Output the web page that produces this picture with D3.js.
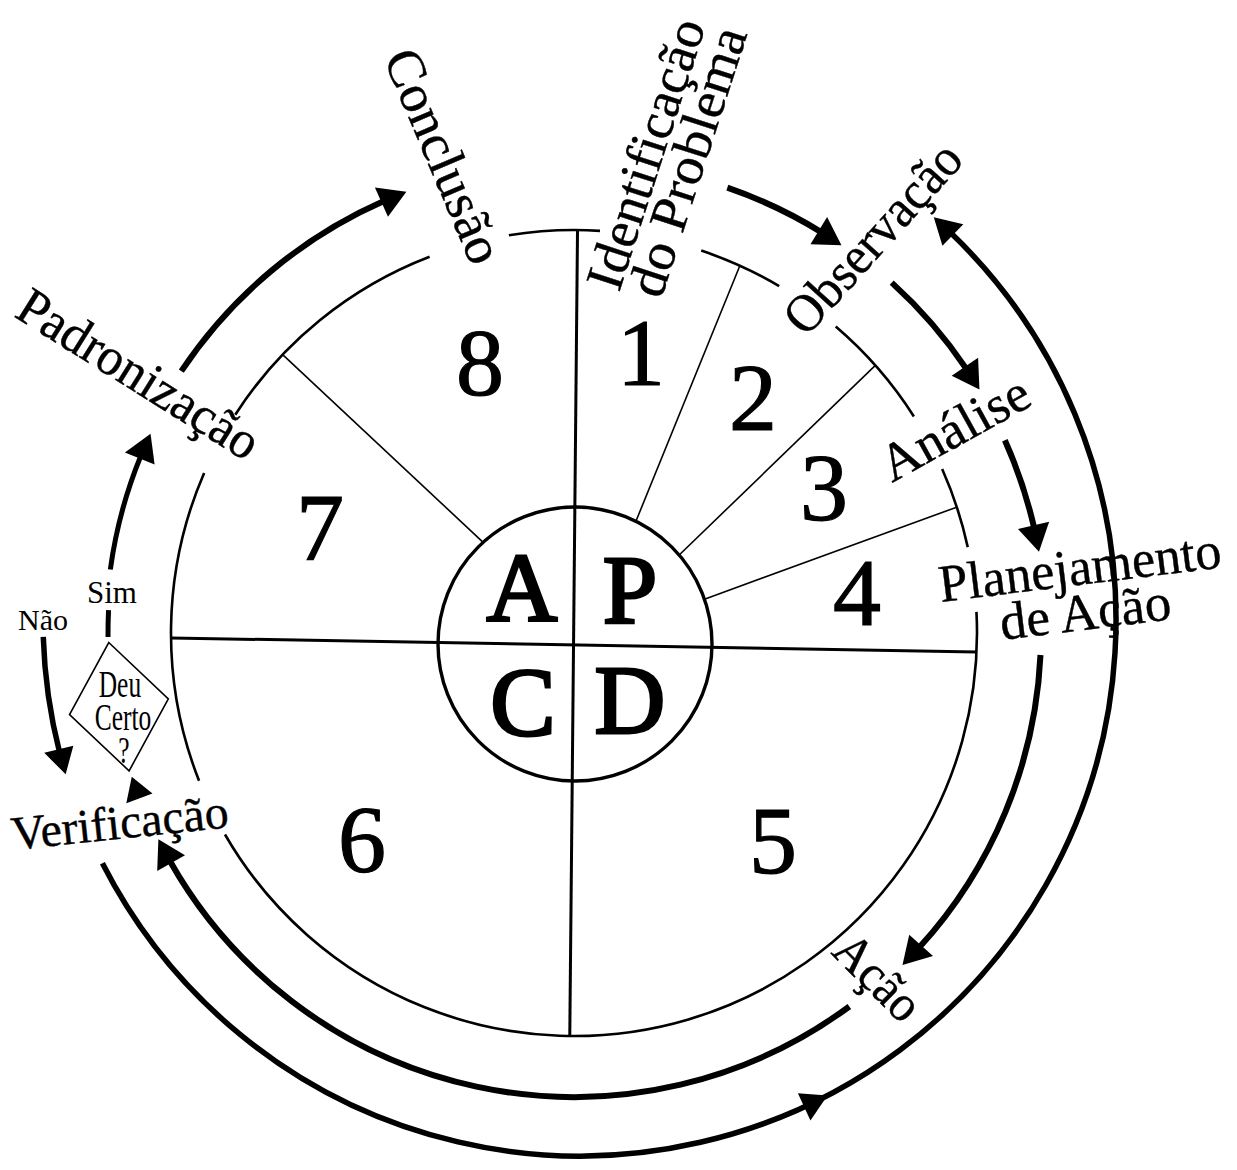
<!DOCTYPE html>
<html>
<head>
<meta charset="utf-8">
<script src="https://cdn.jsdelivr.net/npm/d3@7"></script>
<style>
  body { margin: 0; background: #fff; }
  text { font-family: "Liberation Serif", "Times New Roman", serif; fill: #000; }
</style>
</head>
<body>
<div id="container"></div>
<script>
// Dados do ciclo PDCA
var steps = ["1", "2", "3", "4", "5", "6", "7", "8"];
var quadrants = ["A", "P", "C", "D"];
var stageLabels = ["Identificação", "do Problema", "Conclusão", "Observação", "Análise",
                   "Planejamento", "de Ação", "Ação", "Verificação", "Padronização"];
var decisionLines = ["Deu", "Certo", "?"];
var branchLabels = ["Sim", "Não"];

// ângulos em graus, sentido horário a partir do topo
var ringArcs = [[302.8, 339], [350.7, 363.7], [18.4, 30.6], [40.5, 57.5], [66, 77.7], [87, 240], [248.5, 293.4]];
var dividerAngles = [[26.4, 24.3], [49.5, 48.4], [70.9, 71.8], [317.9, 313.7]];
var crossAngles = [[0.5, 180.6], [269.3, 92.7]];
var flowArcs = [[303.7, 339.2], [19, 34.6], [42.2, 59], [65.9, 80.1], [92.7, 135.3], [143.6, 243.6], [249.2, 252], [277.8, 295.2]];
var returnArcs = [[268.2, 253.3], [243, 41.3]];

// Layout
var width = 1237, height = 1170;
var C = [574, 633],      // centro do círculo externo
    CI = [575, 644],     // centro do círculo interno
    CR = [580, 620];     // centro do arco de retorno
var R = 403, RI = 137;
var flowR = [472, 471, 473, 472, 467, 464, 465, 468];
var returnR = [537, 536];

var svg = d3.select("#container").append("svg")
  .attr("width", width)
  .attr("height", height);

var ang = d3.scaleLinear().domain([0, 360]).range([-Math.PI / 2, 1.5 * Math.PI]);

function pt(c, r, deg) {
  var a = ang(deg);
  return [c[0] + r * Math.cos(a), c[1] + r * Math.sin(a)];
}

function arcPath(c, r, a0, a1) {
  var p = d3.path();
  var s = pt(c, r, a0);
  p.moveTo(s[0], s[1]);
  p.arc(c[0], c[1], r, ang(a0), ang(a1), a1 < a0);
  return p.toString();
}

// seta: arco + ponta triangular
function arrow(c, r, a0, a1, w, L, W, g) {
  var dir = a1 > a0 ? 1 : -1;
  var dA = L / r * 180 / Math.PI;
  var lineEnd = a1 - dir * (dA - 0.4);
  if ((lineEnd - a0) * dir > 0) {
    g.append("path")
      .attr("d", arcPath(c, r, a0, lineEnd))
      .attr("fill", "none")
      .attr("stroke", "#000")
      .attr("stroke-width", w);
  }
  head(c, r, a1, dir, L, W, g);
}

function head(c, r, tipA, dir, L, W, g) {
  var dA = L / r * 180 / Math.PI;
  var tip = pt(c, r, tipA),
      b1 = pt(c, r - W / 2, tipA - dir * dA),
      b2 = pt(c, r + W / 2, tipA - dir * dA);
  g.append("path")
    .attr("d", "M" + tip + "L" + b1 + "L" + b2 + "Z")
    .attr("fill", "#000");
}

var g = svg.append("g");

// Círculo externo (com aberturas para os textos)
g.selectAll(".ring")
  .data(ringArcs)
  .enter().append("path")
  .attr("class", "ring")
  .attr("d", function(d) { return arcPath(C, R, d[0], d[1]); })
  .attr("fill", "none")
  .attr("stroke", "#000")
  .attr("stroke-width", 2.6);

// Linhas divisórias das etapas
g.selectAll(".divider")
  .data(dividerAngles)
  .enter().append("line")
  .attr("class", "divider")
  .attr("x1", function(d) { return pt(CI, RI, d[0])[0]; })
  .attr("y1", function(d) { return pt(CI, RI, d[0])[1]; })
  .attr("x2", function(d) { return pt(C, R, d[1])[0]; })
  .attr("y2", function(d) { return pt(C, R, d[1])[1]; })
  .attr("stroke", "#000")
  .attr("stroke-width", 1.6);

// Linhas em cruz
g.selectAll(".cross")
  .data(crossAngles)
  .enter().append("line")
  .attr("class", "cross")
  .attr("x1", function(d) { return pt(C, R, d[0])[0]; })
  .attr("y1", function(d) { return pt(C, R, d[0])[1]; })
  .attr("x2", function(d) { return pt(C, R, d[1])[0]; })
  .attr("y2", function(d) { return pt(C, R, d[1])[1]; })
  .attr("stroke", "#000")
  .attr("stroke-width", 3);

// Círculo interno
g.append("circle")
  .attr("cx", CI[0])
  .attr("cy", CI[1])
  .attr("r", RI)
  .attr("fill", "none")
  .attr("stroke", "#000")
  .attr("stroke-width", 3.4);

// Setas do fluxo
flowArcs.forEach(function(d, i) {
  if (i == 6) {
    head(C, flowR[i], d[1], 1, 23, 28, g);
  } else {
    arrow(C, flowR[i], d[0], d[1], i == 7 ? 5 : 6, 27, 32, g);
  }
});
// traço abaixo do "Sim"
g.append("path")
  .attr("d", arcPath(C, 466, 269.5, 272.8))
  .attr("fill", "none")
  .attr("stroke", "#000")
  .attr("stroke-width", 5);

// Arcos de retorno (Não, e volta até Observação)
returnArcs.forEach(function(d, i) {
  arrow(CR, returnR[i], d[0], d[1], 5.5, 26, 30, g);
});
head(CR, returnR[1], 152.5, -1, 26, 30, g);

// Losango "Deu Certo ?"
var dc = pt(C, 461, 260.8);
var diamond = g.append("g")
  .attr("transform", "translate(" + dc[0] + "," + dc[1] + ") rotate(-9)");
diamond.append("path")
  .attr("d", "M0,-65L50,0L0,65L-50,0Z")
  .attr("fill", "#fff")
  .attr("stroke", "#000")
  .attr("stroke-width", 1.6);

var decisionPos = [[1, -10], [4, 23], [5, 56]];
g.selectAll(".decision")
  .data(decisionLines)
  .enter().append("text")
  .attr("class", "decision")
  .attr("transform", function(d, i) {
    return "translate(" + (dc[0] + decisionPos[i][0]) + "," + (dc[1] + decisionPos[i][1]) + ") scale(0.67,1)";
  })
  .attr("text-anchor", "middle")
  .attr("font-size", 38)
  .text(function(d) { return d; });

var branchPos = [[112, 603, 31], [43, 630, 30]];
g.selectAll(".branch")
  .data(branchLabels)
  .enter().append("text")
  .attr("class", "branch")
  .attr("x", function(d, i) { return branchPos[i][0]; })
  .attr("y", function(d, i) { return branchPos[i][1]; })
  .attr("font-size", function(d, i) { return branchPos[i][2]; })
  .attr("text-anchor", "middle")
  .text(function(d) { return d; });

// Números das etapas
var stepPos = [[641, 385], [753, 430], [824, 520], [857, 625], [773, 873], [362, 872], [320, 560], [480, 395]];
g.selectAll(".step")
  .data(steps)
  .enter().append("text")
  .attr("class", "step")
  .attr("x", function(d, i) { return stepPos[i][0]; })
  .attr("y", function(d, i) { return stepPos[i][1]; })
  .attr("text-anchor", "middle")
  .attr("font-size", 96)
  .attr("stroke", "#000")
  .attr("stroke-width", 1.2)
  .text(function(d) { return d; });

// Letras PDCA
var quadPos = [[522, 620], [630, 623], [523, 735], [630, 733]];
g.selectAll(".quad")
  .data(quadrants)
  .enter().append("text")
  .attr("class", "quad")
  .attr("x", function(d, i) { return quadPos[i][0]; })
  .attr("y", function(d, i) { return quadPos[i][1]; })
  .attr("text-anchor", "middle")
  .attr("font-size", 98)
  .attr("stroke", "#000")
  .attr("stroke-width", 3)
  .text(function(d) { return d; });

// Rótulos das etapas: início da linha de base, rotação, tamanho, comprimento
var labelPos = [[619, 293, -72, 53, 281], [661, 300, -72, 53, 280], [383, 58, 67, 53, 228],
                [806, 338, -48, 53, 238], [892, 483, -29, 53, 163], [941, 602, -7, 53, 284],
                [1002, 640, -7, 53, 172], [830, 953, 45, 51, 102], [13, 850, -6, 48, 218],
                [13, 316, 32, 53, 275]];
g.selectAll(".label")
  .data(stageLabels)
  .enter().append("text")
  .attr("class", "label")
  .attr("transform", function(d, i) {
    return "translate(" + labelPos[i][0] + "," + labelPos[i][1] + ") rotate(" + labelPos[i][2] + ")";
  })
  .attr("font-size", function(d, i) { return labelPos[i][3]; })
  .attr("textLength", function(d, i) { return labelPos[i][4]; })
  .attr("lengthAdjust", "spacingAndGlyphs")
  .attr("stroke", "#000")
  .attr("stroke-width", 0.4)
  .text(function(d) { return d; });
</script>
</body>
</html>
